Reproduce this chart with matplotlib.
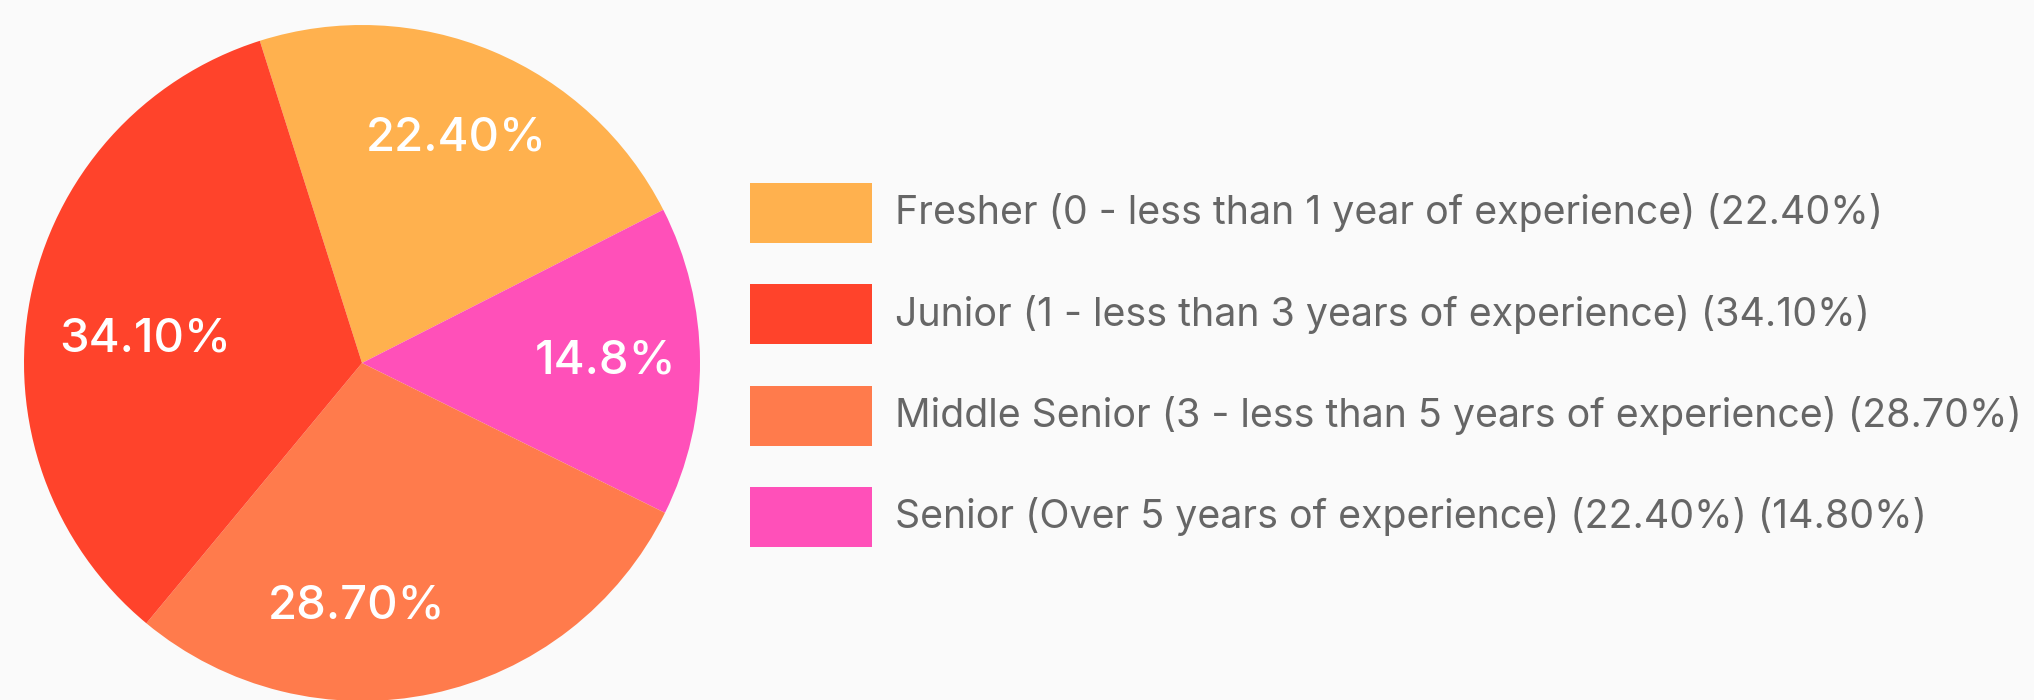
import numpy as np
import matplotlib.pyplot as plt
from matplotlib.patches import Rectangle

plt.rcParams['font.family'] = ['Inter', 'DejaVu Sans']

# experience groups, in legend order
groups = ['Fresher', 'Junior', 'Middle Senior', 'Senior']
shares = [22.4, 34.1, 28.7, 14.8]
slice_labels = ['22.40%', '34.10%', '28.70%', '14.8%']
legend_labels = ['Fresher (0 - less than 1 year of experience) (22.40%)',
				 'Junior (1 - less than 3 years of experience) (34.10%)',
				 'Middle Senior (3 - less than 5 years of experience) (28.70%)',
				 'Senior (Over 5 years of experience) (22.40%) (14.80%)']
colors = ['#FFB14E', '#FF432B', '#FF7B4C', '#FF50B9']

# slices go clockwise: Fresher, Senior, Middle Senior, Junior
pie_order = [0, 3, 2, 1]
# label nudges (radius fraction, clockwise degrees from slice middle)
label_radius = [0.72, 0.645, 0.72, 0.72]
label_shift = [0.0, -4.8, 13.4, 0.0]

W, H = 2034, 700
fig = plt.figure(figsize=(W/100, H/100), dpi=100)
fig.patch.set_facecolor('#FAFAFA')

cx, cy, r = 362, 363, 338
ax = fig.add_axes([(cx-r)/W, (H-cy-r)/H, 2*r/W, 2*r/H])
ax.set_facecolor('none')
wedges, _ = ax.pie([shares[i] for i in pie_order],
				   colors=[colors[i] for i in pie_order],
				   startangle=107.6, counterclock=False,
				   wedgeprops=dict(linewidth=0))
ax.set_xlim(-1, 1)
ax.set_ylim(-1, 1)
ax.set_aspect('equal')
ax.axis('off')

for wedge, i in zip(wedges, pie_order):
	mid = np.deg2rad((wedge.theta1 + wedge.theta2)/2 - label_shift[i])
	rad = label_radius[i]
	ax.text(rad*np.cos(mid), rad*np.sin(mid), slice_labels[i],
			ha='center', va='center', color='white',
			fontsize=34, fontweight='medium')

# legend drawn by hand: swatch + text per row
sw_x, sw_w, sw_h = 750, 122, 60
row_top, row_step = 183, 101.3
for i, label in enumerate(legend_labels):
	top = row_top + i*row_step
	fig.patches.append(Rectangle((sw_x/W, (H-top-sw_h)/H), sw_w/W, sw_h/H,
								 transform=fig.transFigure,
								 facecolor=colors[i], edgecolor='none'))
	fig.text(895/W, (H-top-sw_h/2)/H, label, ha='left', va='center',
			 fontsize=28.3, color='#666666')

fig.savefig('out.png', dpi=100, facecolor=fig.get_facecolor())
